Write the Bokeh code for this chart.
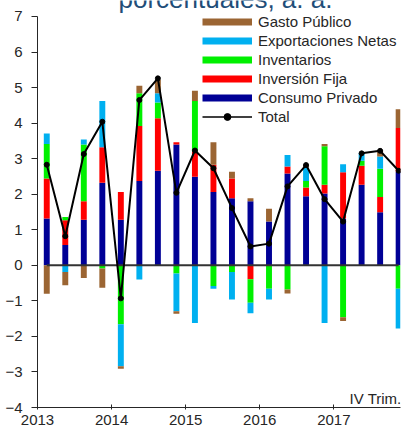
import numpy as np
from bokeh.plotting import figure
from bokeh.models import ColumnDataSource, Legend, LegendItem, Label, FixedTicker, Range1d
from bokeh.embed import file_html
from bokeh.resources import INLINE

# Quarters 2013 Q1 .. 2017 Q4
years = [2013]*4 + [2014]*4 + [2015]*4 + [2016]*4 + [2017]*4
quarters = [1, 2, 3, 4]*5

consumo = [1.32, 0.57, 1.28, 2.32, 1.28, 2.37, 2.66, 3.40, 2.49, 2.06,
           1.89, 1.80, 1.23, 2.58, 1.94, 2.02, 1.32, 2.27, 1.49, 2.63]
inversion = [1.12, 0.70, 0.52, 1.00, 0.78, 1.55, 1.48, 0.06, 0.71, 0.77,
             0.55, -0.39, 0.00, 0.20, 0.25, 0.25, 1.30, 0.53, 0.43, 1.23]
inventarios = [0.97, 0.09, 1.60, -0.09, -1.66, 0.92, 0.44, -0.23, 1.42, -0.58,
               -0.19, -0.66, -0.66, -0.68, 0.18, 1.08, -1.46, 0.14, 0.80, -0.66]
exportaciones = [0.30, -0.19, 0.14, 1.30, -1.18, -0.40, 0.26, -1.06, -1.62, -0.08,
                 -0.77, -0.30, -0.30, 0.32, 0.38, -1.62, 0.22, 0.21, 0.34, -1.12]
gasto = [-0.80, -0.37, -0.36, -0.54, -0.07, 0.21, 0.38, -0.07, 0.29, 0.63,
         0.19, 0.09, 0.36, -0.11, 0.07, 0.06, -0.11, 0.00, 0.18, 0.53]
total = [2.83, 0.82, 3.13, 4.04, -0.93, 4.65, 5.26, 2.04, 3.23, 2.73,
         1.61, 0.53, 0.61, 2.22, 2.82, 1.86, 1.23, 3.15, 3.22, 2.66]

year_ticks = [2013, 2014, 2015, 2016, 2017]
y_ticks = [-4, -3, -2, -1, 0, 1, 2, 3, 4, 5, 6, 7]

names = ["Consumo Privado", "Inversión Fija", "Inventarios", "Exportaciones Netas", "Gasto Público"]
colors = ["#000096", "#ff0000", "#00f000", "#00b0f0", "#9b6533"]
values = [consumo, inversion, inventarios, exportaciones, gasto]

x = np.array(years) + (np.array(quarters) - 0.5) / 4.0

FONT = "Liberation Sans"
TXT = "#262626"

p = figure(width=403, height=432, output_backend="svg", toolbar_location=None,
           x_range=Range1d(2013, 2017.9), y_range=Range1d(-4, 7.45),
           min_border_left=37, min_border_right=3, min_border_top=0, min_border_bottom=25)
p.outline_line_color = None
p.xgrid.visible = False
p.ygrid.visible = False
p.background_fill_color = "white"

pos = np.zeros(len(x))
neg = np.zeros(len(x))
for name, vals, col in zip(names, values, colors):
    v = np.array(vals, dtype=float)
    bottom = np.where(v >= 0, pos, neg)
    top = bottom + v
    pos = np.where(v >= 0, top, pos)
    neg = np.where(v < 0, top, neg)
    src = ColumnDataSource(dict(x=x, bottom=bottom, top=top))
    p.vbar(x="x", bottom="bottom", top="top", width=0.08,
           source=src, fill_color=col, line_color=None)

# zero line
p.line(x=[x[0], x[-1]], y=[0, 0], line_color="#333333", line_width=2)

p.line(x=x, y=total, line_color="black", line_width=2)
p.scatter(x=x, y=total, size=5, fill_color="black", line_color="black")

# legend swatches (renderers with no visible points)
nan = [np.nan]
leg_items = []
for name in ["Gasto Público", "Exportaciones Netas", "Inventarios", "Inversión Fija", "Consumo Privado"]:
    col = colors[names.index(name)]
    r = p.line(x=nan, y=nan, line_color=col, line_width=7, line_cap="butt")
    leg_items.append(LegendItem(label=name, renderers=[r]))
tl_leg = p.line(x=nan, y=nan, line_color="black", line_width=1.5)
ts_leg = p.scatter(x=nan, y=nan, size=4, fill_color="black", line_color="black")
leg_items.append(LegendItem(label="Total", renderers=[tl_leg, ts_leg]))

legend = Legend(items=leg_items, location=(165, 282), orientation="vertical",
                glyph_width=50, glyph_height=17, label_height=17, spacing=2,
                label_standoff=6, padding=0, margin=0,
                border_line_color=None, background_fill_alpha=0,
                label_text_font=FONT, label_text_font_size="15px", label_text_color=TXT)
p.add_layout(legend, "center")

# axes
p.xaxis.ticker = FixedTicker(ticks=year_ticks)
p.yaxis.ticker = FixedTicker(ticks=y_ticks)
p.yaxis.bounds = (-4, 7)
for ax in (p.xaxis, p.yaxis):
    ax.axis_line_color = TXT
    ax.major_tick_line_color = TXT
    ax.minor_tick_line_color = None
    ax.major_label_text_font = FONT
    ax.major_label_text_font_size = "15px"
    ax.major_label_text_color = TXT
p.yaxis.major_tick_in = 0
p.yaxis.major_tick_out = 6
p.yaxis.major_label_standoff = 9
p.xaxis.major_tick_in = 3
p.xaxis.major_tick_out = 2
p.xaxis.major_label_standoff = 5

# title fragment (cut off at the top, as in the source) and note
p.add_layout(Label(x=188, y=409, x_units="screen", y_units="screen",
                   text="porcentuales, a. a.", text_align="center",
                   text_baseline="alphabetic", text_font=FONT,
                   text_font_size="26px", text_color="#1f4e79"))
p.add_layout(Label(x=364, y=9, x_units="screen", y_units="screen",
                   text="IV Trim.", text_align="right", text_baseline="alphabetic",
                   text_font=FONT, text_font_size="15px", text_color=TXT))

open("out.html", "w").write(file_html(p, INLINE))
